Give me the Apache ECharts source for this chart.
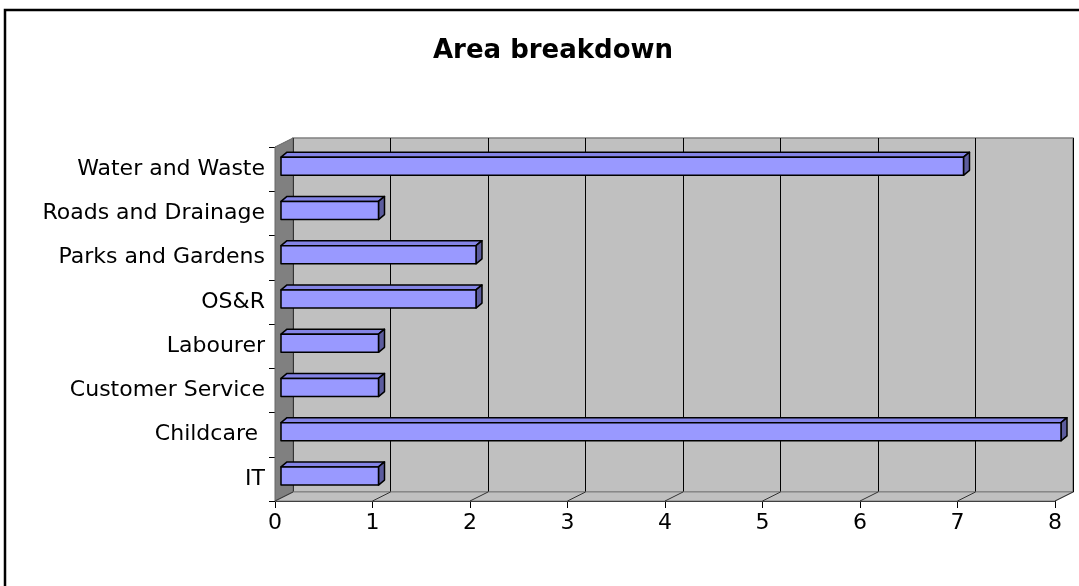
<!DOCTYPE html>
<html>
<head>
<meta charset="utf-8">
<title>Area breakdown</title>
<script src="https://cdn.jsdelivr.net/npm/echarts@6/dist/echarts.min.js"></script>
<style>
  html, body { margin: 0; padding: 0; background: #fff; }
  #eChart { width: 1079px; height: 586px; }
</style>
</head>
<body>
<div id="eChart"></div>
<script>
// data (bottom to top)
const categories = [
  "IT",
  "Childcare ",
  "Customer Service",
  "Labourer",
  "OS&R",
  "Parks and Gardens",
  "Roads and Drainage",
  "Water and Waste",
];
const values = [1, 8, 1, 1, 2, 2, 1, 7];
const xTicks = [0, 1, 2, 3, 4, 5, 6, 7, 8];

// layout of the fake 3d box
const front = { left: 275, top: 147, width: 780, height: 354 };
const depth = { dx: 18, dy: -9 };
const font = "DejaVu Sans";

const myChart = echarts.init(document.getElementById("eChart"), null, {
  renderer: "canvas",
});

function renderBar(params, api) {
  const v = api.value(0);
  const cat = api.value(1);
  const p0 = api.coord([0, cat]);
  const p1 = api.coord([v, cat]);
  const band = api.size([0, 1])[1];
  const h = band * 0.41;
  const ox = 6, oy = 5; // bar depth
  const x0 = p0[0] + 6;
  const x1 = p1[0] + 6;
  const yTop = p0[1] - band * 0.27;
  const yBot = yTop + h;
  const stroke = { stroke: "#000", lineWidth: 1.5, lineJoin: "round" };
  return {
    type: "group",
    children: [
      {
        type: "polygon",
        shape: { points: [[x0, yTop], [x0 + ox, yTop - oy], [x1 + ox, yTop - oy], [x1, yTop]] },
        style: Object.assign({ fill: "#8484e6" }, stroke),
      },
      {
        type: "polygon",
        shape: { points: [[x1, yTop], [x1 + ox, yTop - oy], [x1 + ox, yBot - oy], [x1, yBot]] },
        style: Object.assign({ fill: "#5c5c9e" }, stroke),
      },
      {
        type: "rect",
        shape: { x: x0, y: yTop, width: x1 - x0, height: h },
        style: Object.assign({ fill: "#9999ff" }, stroke),
      },
    ],
  };
}

const opts = {
  animation: false,
  title: {
    text: "Area breakdown",
    left: 428,
    top: 33,
    textStyle: { fontFamily: font, fontSize: 26, fontWeight: "bold", color: "#000" },
  },
  grid: [
    {
      left: front.left,
      top: front.top,
      width: front.width,
      height: front.height,
    },
    {
      // back wall
      left: front.left + depth.dx,
      top: front.top + depth.dy,
      width: front.width,
      height: front.height,
      show: true,
      backgroundColor: "#c0c0c0",
      borderColor: "#808080",
      borderWidth: 1.5,
    },
  ],
  xAxis: [
    {
      gridIndex: 0,
      type: "value",
      min: xTicks[0],
      max: xTicks[xTicks.length - 1],
      interval: 1,
      axisLine: { show: true, lineStyle: { color: "#000", width: 1 } },
      axisTick: { show: true, length: 7, lineStyle: { color: "#000" } },
      axisLabel: { fontFamily: font, fontSize: 22, color: "#000", margin: 11 },
      splitLine: { show: false },
    },
    {
      gridIndex: 1,
      type: "value",
      min: xTicks[0],
      max: xTicks[xTicks.length - 1],
      interval: 1,
      axisLine: { show: false },
      axisTick: { show: false },
      axisLabel: { show: false },
      splitLine: { show: true, lineStyle: { color: "#000", width: 1 } },
    },
  ],
  yAxis: [
    {
      gridIndex: 0,
      type: "category",
      data: categories,
      axisLine: { show: true, lineStyle: { color: "#000", width: 1 } },
      axisTick: { show: true, length: 6, lineStyle: { color: "#000" } },
      axisLabel: { fontFamily: font, fontSize: 22, color: "#000", margin: 10 },
    },
    {
      gridIndex: 1,
      type: "category",
      data: categories,
      show: false,
    },
  ],
  series: [
    {
      name: "Area",
      type: "custom",
      xAxisIndex: 0,
      yAxisIndex: 0,
      z: 10,
      renderItem: renderBar,
      encode: { x: 0, y: 1 },
      data: values.map((v, i) => [v, i]),
    },
  ],
};
myChart.setOption(opts);

// left wall, floor and the floor lines from front ticks to back grid lines
const bottom = front.top + front.height;
const right = front.left + front.width;
const walls = [
  {
    type: "rect",
    z: 0,
    shape: { x: 5, y: 10, width: 1200, height: 700 },
    style: { fill: "none", stroke: "#000", lineWidth: 2.5 },
  },
  {
    type: "polygon",
    z: 1,
    shape: {
      points: [
        [front.left, front.top],
        [front.left + depth.dx, front.top + depth.dy],
        [front.left + depth.dx, bottom + depth.dy],
        [front.left, bottom],
      ],
    },
    style: { fill: "#808080", stroke: "#666", lineWidth: 1 },
  },
  {
    type: "polygon",
    z: 1,
    shape: {
      points: [
        [front.left, bottom],
        [front.left + depth.dx, bottom + depth.dy],
        [right + depth.dx, bottom + depth.dy],
        [right, bottom],
      ],
    },
    style: { fill: "#c0c0c0", stroke: "#808080", lineWidth: 1 },
  },
];
xTicks.forEach((t) => {
  const xf = myChart.convertToPixel({ xAxisIndex: 0 }, t);
  const xb = myChart.convertToPixel({ xAxisIndex: 1 }, t);
  walls.push({
    type: "line",
    z: 2,
    shape: { x1: xf, y1: bottom, x2: xb, y2: bottom + depth.dy },
    style: { stroke: "#333", lineWidth: 1 },
  });
});
myChart.setOption({ graphic: walls });
</script>
</body>
</html>
